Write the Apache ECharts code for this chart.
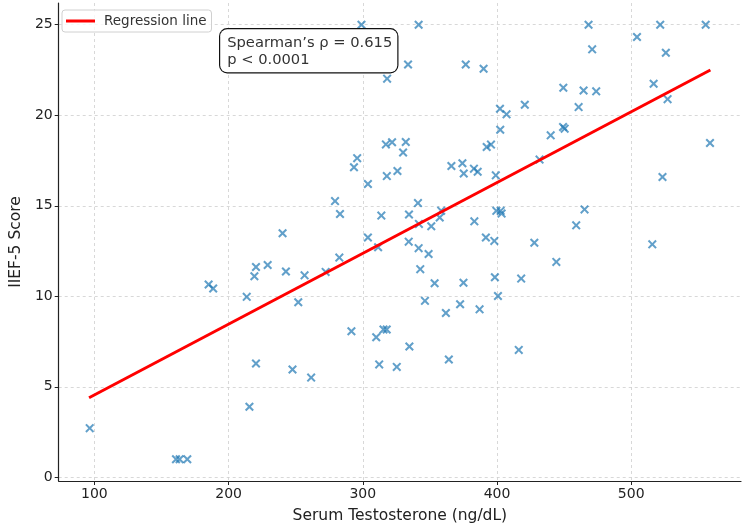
<!DOCTYPE html>
<html>
<head>
<meta charset="utf-8">
<script src="https://cdn.jsdelivr.net/npm/echarts@6/dist/echarts.min.js"></script>
<style>
    html, body { margin: 0; padding: 0; background: #fff; }
    #chart { width: 750px; height: 532px; }
</style>
</head>
<body>
<div id="chart"></div>
<script>
// serum testosterone (ng/dL) and IIEF-5 score, one entry per patient
const testosterone = [
    96.5, 160.8, 163.5, 169.2, 185.1, 188.5, 213.5, 220.4, 219.2, 229.1,
    242.7, 256.6, 251.9, 220.4, 247.6, 215.5, 261.5, 240.2, 272.3, 282.5,
    311.4, 334.2, 341.6, 349, 342.8, 353.5, 346.3, 361.9, 372.5, 375,
    387, 398.4, 400.7, 418, 416.2, 427.8, 291.5, 310, 315.4, 317.8,
    312.2, 325.3, 334.7, 364.1, 444.2, 515.7, 299, 341.6, 333.7, 318.1,
    376.7, 390, 402.2, 407.1, 420.7, 402.4, 440, 392.3, 395.5, 431.7,
    317.2, 321.8, 332, 330, 295.8, 293.4, 317.9, 325.8, 303.8, 366,
    374.2, 375.2, 382.8, 385.6, 399.1, 279.3, 283, 313.8, 334.4, 341.1,
    358.4, 357.3, 341.8, 351, 383.1, 399.5, 402.7, 403.4, 391.7, 398,
    303.8, 468.2, 521.6, 555.5, 504.3, 470.9, 525.8, 449.4, 464.5, 473.9,
    516.7, 527.1, 460.8, 449.2, 450.4, 558.7, 523.3, 465.2, 459
];
const iief5 = [
    2.72, 1, 1, 1, 10.65, 10.43, 9.97, 11.62, 11.11, 11.73,
    11.37, 11.16, 9.67, 6.29, 5.96, 3.9, 5.51, 13.48, 11.35, 12.14,
    12.71, 13.02, 12.66, 12.34, 11.5, 10.72, 9.75, 9.08, 9.56, 10.75,
    9.28, 11.05, 10.02, 10.98, 7.04, 12.96, 8.07, 7.74, 8.17, 8.17,
    6.24, 6.1, 7.23, 6.51, 11.9, 12.87, 25, 25, 22.8, 22.02,
    22.8, 22.57, 20.36, 20.05, 20.58, 19.2, 18.89, 18.25, 18.38, 17.55,
    18.39, 18.51, 18.52, 17.94, 17.63, 17.13, 16.64, 16.92, 16.2, 17.2,
    17.35, 16.78, 17.05, 16.88, 16.68, 15.26, 14.55, 14.46, 14.52, 15.15,
    14.73, 14.35, 14, 13.87, 14.14, 14.72, 14.72, 14.57, 13.25, 13.06,
    13.25, 25, 25, 25, 24.32, 23.64, 23.45, 21.52, 21.37, 21.32,
    21.74, 20.89, 20.45, 19.35, 19.26, 18.47, 16.59, 14.8, 13.92
];
// regression line end points as drawn
const lineX = [96, 559];
const lineY = [4.4, 22.5];
const xTicks = [100, 200, 300, 400, 500];
const yTicks = [0, 5, 10, 15, 20, 25];
const rho = "0.615";
const pText = "p < 0.0001";

const chart = echarts.init(document.getElementById("chart"));
const font = "DejaVu Sans";
// "x" marker as a filled outline
const crossPath = "path://M1.6,0 L5,3.4 L8.4,0 L10,1.6 L6.6,5 L10,8.4 L8.4,10 L5,6.6 L1.6,10 L0,8.4 L3.4,5 L0,1.6 Z";

const points = testosterone.map((t, i) => [t, iief5[i]]);
const regLine = lineX.map((x, i) => [x, lineY[i]]);

chart.setOption({
    backgroundColor: "#fff",
    animation: false,
    textStyle: { fontFamily: font },
    grid: { left: 55, right: 9, top: 3, bottom: 51 },
    legend: {
        left: 62,
        top: 10,
        padding: [4, 5, 4, 4],
        itemWidth: 29,
        itemHeight: 3,
        icon: "rect",
        backgroundColor: "rgba(255,255,255,0.8)",
        borderColor: "#d0d0d0",
        borderWidth: 1,
        borderRadius: 3,
        textStyle: { fontSize: 13.5, color: "#333", padding: [0, 0, 0, 4], fontFamily: font },
        data: ["Regression line"],
    },
    xAxis: {
        type: "value",
        min: 73.4,
        max: 581.8,
        name: "Serum Testosterone (ng/dL)",
        nameLocation: "middle",
        nameGap: 27,
        nameTextStyle: { fontSize: 15.5, color: "#222", fontFamily: font },
        axisLine: { show: true, onZero: false, lineStyle: { color: "#222", width: 1.2 } },
        axisTick: { show: true, length: 4, lineStyle: { color: "#222" }, customValues: xTicks },
        axisLabel: { fontSize: 14, color: "#222", margin: 6, customValues: xTicks },
        splitLine: { show: true, lineStyle: { color: "#cfcfcf", type: [3, 3], width: 0.8 } },
    },
    yAxis: {
        type: "value",
        min: -0.2,
        max: 26.2,
        name: "IIEF-5 Score",
        nameLocation: "middle",
        nameGap: 31,
        nameTextStyle: { fontSize: 15.5, color: "#222", fontFamily: font },
        axisLine: { show: true, onZero: false, lineStyle: { color: "#222", width: 1.2 } },
        axisTick: { show: true, length: 4, lineStyle: { color: "#222" }, customValues: yTicks },
        axisLabel: { fontSize: 14, color: "#222", margin: 6, customValues: yTicks },
        splitLine: { show: true, lineStyle: { color: "#cfcfcf", type: [3, 3], width: 0.8 } },
    },
    series: [
        {
            name: "Patients",
            type: "scatter",
            symbol: crossPath,
            symbolSize: 9,
            itemStyle: { color: "#1f77b4", opacity: 0.7 },
            data: points,
            z: 2,
        },
        {
            name: "Regression line",
            type: "line",
            showSymbol: false,
            symbol: "none",
            color: "#ff0000",
            lineStyle: { color: "#ff0000", width: 3 },
            data: regLine,
            z: 3,
        },
    ],
    graphic: [
        {
            type: "text",
            left: 219,
            top: 28,
            z: 10,
            style: {
                text: "Spearman’s ρ = " + rho + "\n" + pText,
                font: "14.7px " + font,
                fill: "#333",
                lineHeight: 17,
                backgroundColor: "#fff",
                borderColor: "#111",
                borderWidth: 1.2,
                borderRadius: 7,
                padding: [5, 5, 4, 7],
            },
        },
    ],
});
</script>
</body>
</html>
